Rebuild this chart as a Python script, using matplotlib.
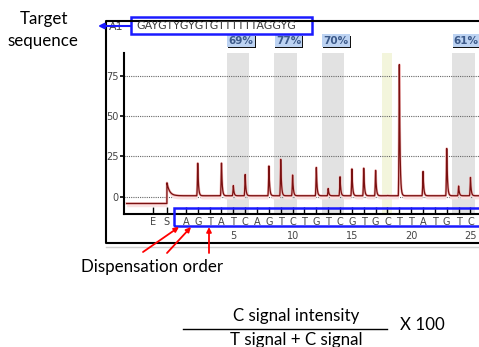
import numpy as np
import matplotlib
matplotlib.use('Agg')
import matplotlib.pyplot as plt
from matplotlib.patches import Rectangle
import matplotlib.transforms as mtrans

# Datos del pirograma
secuencia = 'GAYGTYGYGTGTTTTTTAGGYG'
letras = ['E', 'S', 'A', 'G', 'T', 'A', 'T', 'C', 'A', 'G', 'T', 'C', 'T', 'G', 'T',
          'C', 'G', 'T', 'G', 'C', 'T', 'T', 'A', 'T', 'G', 'T', 'C']
pos_letras = [-1.8, -0.6] + list(range(1, 26))
numeros = [5, 10, 15, 20, 25]
# altura de pico por dispensacion 1..25
alturas = [0, 21, 0, 21.7, 7, 13.9, 0, 19.5, 23.2, 13.9, 0, 18.2, 5.2, 12.8, 17.4,
           18, 17, 0.8, 82.8, 0, 16, 0, 31, 6.8, 12]
pico_s = 8.7
nivel_previo = -4.2
nivel_base = 0.6
# posiciones CpG (T, C) y porcentajes
cpg = [(5, 6), (9, 10), (13, 14), (24, 25)]
porcentajes = ['69%', '77%', '70%', '61%']
control = 18
yticks = [0, 25, 50, 75]

W, H = 479, 347
fig = plt.figure(figsize=(W / 100, H / 100), dpi=100)
ax = fig.add_axes([124 / W, 1 - 214 / H, (479 - 124) / W, (214 - 53) / H])
ax.set_xlim(-4.22, 25.72)
ax.set_ylim(-10.73, 89.14)

# bandas
for (a, b) in cpg:
    ax.axvspan(a - 0.55, b + 0.35, color='#e2e2e2', zorder=0, lw=0)
ax.axvspan(control - 0.42, control + 0.42, color='#f3f5dc', zorder=0, lw=0)

# senal
xs = np.linspace(-4.0, 25.8, 6000)
ys = np.where(xs < pos_letras[1], nivel_previo, nivel_base)
ds = xs - pos_letras[1]
ys = ys + np.where(ds >= 0, (pico_s - nivel_base) * np.exp(-np.clip(ds, 0, None) / 0.22), 0)
for i, h in enumerate(alturas, start=1):
    if h <= 0:
        continue
    amp = h - nivel_base
    d = xs - i
    sube = np.where((d > -0.09) & (d <= 0), amp * ((d + 0.09) / 0.09) ** 2, 0)
    baja = np.where(d > 0, amp * np.exp(-np.clip(d, 0, None) / 0.06), 0)
    ys = ys + sube + baja
ax.fill_between(xs, ys - 2, ys, color='#f9e2e2', lw=0, zorder=1)
ax.plot(xs, ys, color='#f0b8b8', lw=1.8, zorder=2)
ax.plot(xs, ys, color='#7a1010', lw=0.9, zorder=3)

# ejes
for s in ['top', 'right']:
    ax.spines[s].set_visible(False)
for s in ['left', 'bottom']:
    ax.spines[s].set_linewidth(1.5)
ax.set_yticks(yticks)
ax.tick_params(axis='y', direction='out', length=3, width=1.2, labelsize=7, pad=1,
               labelcolor='#444444')
ax.set_xticks(pos_letras, labels=letras)
ax.tick_params(axis='x', direction='in', length=5, width=1, labelsize=7, pad=2,
               labelcolor='#444444')
ax.yaxis.grid(True, linestyle=(0, (1, 1)), color='#666666', lw=0.8)
ax.set_axisbelow(True)

tr = mtrans.blended_transform_factory(ax.transData, ax.transAxes)
for n in numeros:
    ax.text(n, -0.137, str(n), transform=tr, ha='center', va='center', fontsize=7,
            color='#444444', clip_on=False)
ax.add_patch(Rectangle((0, -0.075), 27, 0.112, transform=tr, fill=False,
                       ec='#1a1aff', lw=1.8, clip_on=False, zorder=5))

# porcentajes
for (a, b), p in zip(cpg, porcentajes):
    cx = a - 0.55 + 1.2
    ax.add_patch(Rectangle((cx - 1.1, 1.03), 2.35, 0.075, transform=tr, fc='#111111',
                           ec='none', clip_on=False))
    ax.add_patch(Rectangle((cx - 1.15, 1.04), 2.3, 0.075, transform=tr, fc='#bdd3f2',
                           ec='none', clip_on=False))
    ax.text(cx, 1.077, p, transform=tr, ha='center', va='center', fontsize=7.5,
            color='#3d5a8a', weight='bold', clip_on=False)

# capa de anotaciones en pixeles
ov = fig.add_axes([0, 0, 1, 1], zorder=10)
ov.set_xlim(0, W)
ov.set_ylim(H, 0)
ov.axis('off')
ov.patch.set_alpha(0)

ov.plot([479, 106, 106, 479], [21, 21, 243, 243], color='black', lw=1.5)
ov.plot([106, 479], [246.5, 246.5], color='#d0d0d0', lw=1)
ov.add_patch(Rectangle((131, 16.5), 181, 17.5, fc='white', ec='#1a1aff', lw=1.8))
ov.text(136.5, 25.5, secuencia, ha='left', va='center', fontsize=8, color='#3a3a3a')
ov.text(109, 27, 'A1', ha='left', va='center', fontsize=8, color='#444444')
ov.annotate('', xy=(98, 26), xytext=(131, 26),
            arrowprops=dict(arrowstyle='-|>', color='#1a1aff', lw=1.5, mutation_scale=8,
                            shrinkA=0, shrinkB=0))

for (x0, y0, x1, y1) in [(143, 252, 179, 227), (167, 253, 191, 227), (209, 253, 209, 227)]:
    ov.annotate('', xy=(x1, y1), xytext=(x0, y0),
                arrowprops=dict(arrowstyle='-|>', color='red', lw=1.3, mutation_scale=7,
                                shrinkA=0, shrinkB=0))

fuente = 'Lato'
tam = 12.2
ov.text(44, 19, 'Target', ha='center', va='center', fontsize=tam, family=fuente)
ov.text(43, 41, 'sequence', ha='center', va='center', fontsize=tam, family=fuente)
ov.text(152, 267, 'Dispensation order', ha='center', va='center', fontsize=tam, family=fuente)
ov.text(296, 316, 'C signal intensity', ha='center', va='center', fontsize=tam, family=fuente)
ov.plot([183, 387], [328.5, 328.5], color='black', lw=1)
ov.text(296.5, 340, 'T signal + C signal', ha='center', va='center', fontsize=tam,
        family=fuente)
ov.text(400, 325, 'X 100', ha='left', va='center', fontsize=tam, family=fuente)

fig.savefig('out.png', dpi=100)
